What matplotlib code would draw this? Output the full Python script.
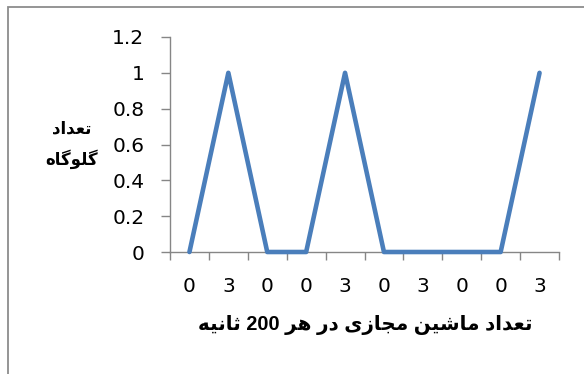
import matplotlib
matplotlib.use("Agg")
import matplotlib.pyplot as plt
from matplotlib.patches import Rectangle
import numpy as np

# ---- data ----
categories = ["0", "3", "0", "0", "3", "0", "3", "0", "0", "3"]
values = [0, 1, 0, 0, 1, 0, 0, 0, 0, 1]
y_ticks = [0, 0.2, 0.4, 0.6, 0.8, 1, 1.2]
y_tick_labels = ["0", "0.2", "0.4", "0.6", "0.8", "1", "1.2"]
x_title = "تعداد ماشین مجازی در هر 200 ثانیه"
y_title_lines = ["تعداد", "گلوگاه"]

# ---- minimal Persian shaping (presentation forms) ----
FORMS = {
    "ا": ("\uFE8D", "\uFE8E", None, None),
    "د": ("\uFEA9", "\uFEAA", None, None),
    "ر": ("\uFEAD", "\uFEAE", None, None),
    "ز": ("\uFEAF", "\uFEB0", None, None),
    "و": ("\uFEED", "\uFEEE", None, None),
    "ت": ("\uFE95", "\uFE96", "\uFE97", "\uFE98"),
    "ث": ("\uFE99", "\uFE9A", "\uFE9B", "\uFE9C"),
    "ج": ("\uFE9D", "\uFE9E", "\uFE9F", "\uFEA0"),
    "ش": ("\uFEB5", "\uFEB6", "\uFEB7", "\uFEB8"),
    "ع": ("\uFEC9", "\uFECA", "\uFECB", "\uFECC"),
    "ل": ("\uFEDD", "\uFEDE", "\uFEDF", "\uFEE0"),
    "م": ("\uFEE1", "\uFEE2", "\uFEE3", "\uFEE4"),
    "ن": ("\uFEE5", "\uFEE6", "\uFEE7", "\uFEE8"),
    "ه": ("\uFEE9", "\uFEEA", "\uFEEB", "\uFEEC"),
    "ی": ("\uFBFC", "\uFBFD", "\uFBFE", "\uFBFF"),
    "گ": ("\uFB92", "\uFB93", "\uFB94", "\uFB95"),
}


def dual(c):
    return c in FORMS and FORMS[c][2] is not None


def shape_word(w):
    out = []
    for i, c in enumerate(w):
        if c not in FORMS:
            out.append(c)
            continue
        prev_join = i > 0 and dual(w[i - 1])
        next_join = dual(c) and i + 1 < len(w) and w[i + 1] in FORMS
        iso, fin, ini, med = FORMS[c]
        if prev_join and next_join:
            out.append(med)
        elif prev_join:
            out.append(fin)
        elif next_join:
            out.append(ini)
        else:
            out.append(iso)
    if any(ch in FORMS for ch in w):
        out = out[::-1]
    return "".join(out)


def rtl(text):
    return " ".join(shape_word(w) for w in text.split(" ")[::-1])


plt.rcParams["font.family"] = ["DejaVu Sans"]

fig = plt.figure(figsize=(5.84, 3.74), dpi=100)
ax = fig.add_axes([170 / 584, 1 - 252 / 374, (559 - 170) / 584, (252 - 37) / 374])

x = np.arange(len(categories))
ax.plot(x, values, color="#4A7EBB", lw=3.3, solid_capstyle="round", solid_joinstyle="round",
        clip_on=False, zorder=3)

ax.set_xlim(-0.5, len(categories) - 0.5)
ax.set_ylim(0, 1.2)
ax.set_yticks(y_ticks)
ax.set_yticklabels(y_tick_labels)
ax.set_xticks(x)
ax.set_xticklabels(categories)
ax.set_xticks(np.arange(len(categories) + 1) - 0.5, minor=True)

axis_col = "#868686"
for s in ["top", "right"]:
    ax.spines[s].set_visible(False)
for s in ["left", "bottom"]:
    ax.spines[s].set_color(axis_col)
    ax.spines[s].set_linewidth(1.0)

ax.tick_params(axis="y", direction="out", length=6.5, width=1, color=axis_col,
               labelsize=14.5, pad=12, labelcolor="black")
ax.tick_params(axis="x", which="major", length=0, labelsize=14.5, pad=18, labelcolor="black")
ax.tick_params(axis="x", which="minor", direction="out", length=6, width=1, color=axis_col)

# axis titles
fig.text(365 / 584, 1 - 325 / 374, rtl(x_title), ha="center", va="center",
         fontsize=14.3, fontweight="bold", family=["Liberation Sans", "DejaVu Sans"])
fig.text(72 / 584, 1 - 128 / 374, rtl(y_title_lines[0]), ha="center", va="center",
         fontsize=12, fontweight="bold")
fig.text(72 / 584, 1 - 159 / 374, rtl(y_title_lines[1]), ha="center", va="center",
         fontsize=12, fontweight="bold")

# chart border (cropped on right and bottom)
fig.patches.append(Rectangle((8 / 584, -0.1), 1.2, 1 - 7 / 374 + 0.1, transform=fig.transFigure,
                             fill=False, edgecolor="#8C8C8C", lw=1.3))

fig.savefig("out.png", dpi=100)
